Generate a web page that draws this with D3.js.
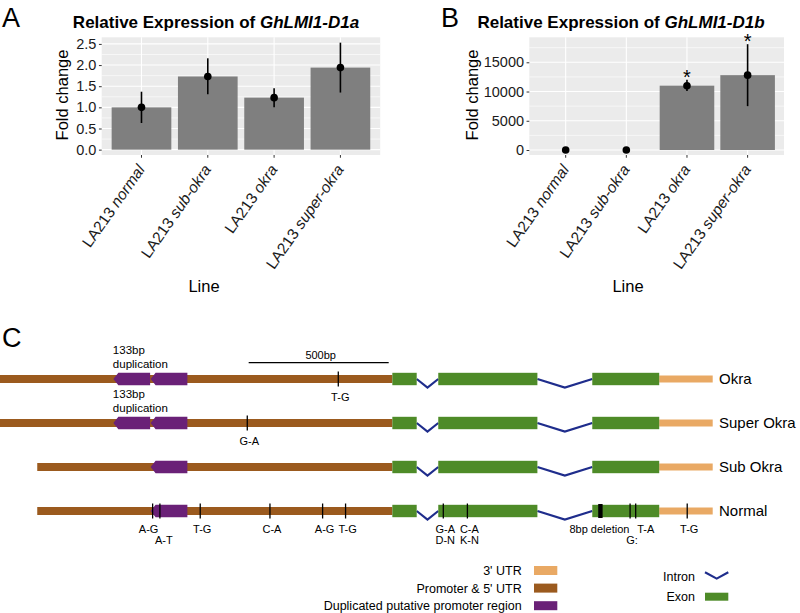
<!DOCTYPE html>
<html>
<head>
<meta charset="utf-8">
<script src="https://cdn.jsdelivr.net/npm/d3@7"></script>
<style>
  body { margin: 0; background: #fff; }
  svg { display: block; font-family: "Liberation Sans", Arial, sans-serif; }
</style>
</head>
<body>
<svg id="fig" width="800" height="613"></svg>
<script>
// ---- data: panels A and B (qPCR fold change) ----
var lineNames = ["normal", "sub-okra", "okra", "super-okra"];
var foldA = [1.0, 1.73, 1.23, 1.94];
var lowA  = [0.63, 1.31, 1.0, 1.35];
var highA = [1.37, 2.16, 1.45, 2.53];
var ticksA = [0, 0.5, 1, 1.5, 2, 2.5];

var foldB = [0, 0, 11000, 12800];
var lowB  = [0, 0, 10100, 7500];
var highB = [0, 0, 12000, 18100];
var signifB = [false, false, true, true];
var ticksB = [0, 5000, 10000, 15000];

// ---- data: panel C (gene structure, bp relative to normal start) ----
var rowNames = ["Okra", "Super Okra", "Sub Okra", "Normal"];
var rowStart = [-133, -133, 0, 0];
var promoterEnd = 1268;
var utrEnd = 2412;
var exons = [[1268, 1355], [1432, 1786], [1982, 2221]];
var dupCopies = [[[270, 403], [403, 536]], [[270, 403], [403, 536]], [[403, 536]], [[403, 536]]];
var snpOkra = [{pos: 1075, label: ["T-G"]}];
var snpSuper = [{pos: 750, label: ["G-A"]}];
var snpNormal = [
  {pos: 412, label: ["A-G"]},
  {pos: 438, label: ["", "A-T"]},
  {pos: 582, label: ["T-G"]},
  {pos: 831, label: ["C-A"]},
  {pos: 1019, label: ["A-G"]},
  {pos: 1101, label: ["T-G"]},
  {pos: 1450, label: ["G-A", "D-N"]},
  {pos: 1536, label: ["C-A", "K-N"]},
  {pos: 2117, label: ["", "G:"]},
  {pos: 2137, label: ["T-A"]},
  {pos: 2321, label: ["T-G"]}
];
var snpRows = [snpOkra, snpSuper, [], snpNormal];
var deletionNormal = {pos: 2011, label: "8bp deletion"};
var scaleBarBp = [755, 1255];

var svg = d3.select("#fig");
svg.append("rect").attr("width", 800).attr("height", 613).attr("fill", "#fff");

// panel letters
[["A", 2, 27], ["B", 441, 27], ["C", 2, 347]].forEach(function(p) {
  svg.append("text").attr("x", p[1]).attr("y", p[2]).attr("font-size", 27).text(p[0]);
});

function exprPanel(cfg) {
  var g = svg.append("g");
  var x = d3.scaleBand().domain(lineNames).range([cfg.left, cfg.right])
            .paddingInner(0.1).paddingOuter(0.15);
  var y = d3.scaleLinear().domain(cfg.yDomain).range([cfg.bottom, cfg.top]);

  g.append("rect").attr("x", cfg.left).attr("y", cfg.top)
   .attr("width", cfg.right - cfg.left).attr("height", cfg.bottom - cfg.top)
   .attr("fill", "#EBEBEB");

  // minor grid between major ticks
  var step = cfg.ticks[1] - cfg.ticks[0];
  var minor = cfg.ticks.map(function(t) { return t + step / 2; })
                 .filter(function(t) { return y(t) > cfg.top; });
  g.selectAll(".minor").data(minor).enter().append("line")
   .attr("x1", cfg.left).attr("x2", cfg.right)
   .attr("y1", function(d) { return y(d); }).attr("y2", function(d) { return y(d); })
   .attr("stroke", "#fff").attr("stroke-width", 0.6);
  g.selectAll(".major").data(cfg.ticks).enter().append("line")
   .attr("x1", cfg.left).attr("x2", cfg.right)
   .attr("y1", function(d) { return y(d); }).attr("y2", function(d) { return y(d); })
   .attr("stroke", "#fff").attr("stroke-width", 1.1);
  g.selectAll(".vmajor").data(lineNames).enter().append("line")
   .attr("x1", function(d) { return x(d) + x.bandwidth() / 2; })
   .attr("x2", function(d) { return x(d) + x.bandwidth() / 2; })
   .attr("y1", cfg.top).attr("y2", cfg.bottom)
   .attr("stroke", "#fff").attr("stroke-width", 1.1);

  // bars
  g.selectAll(".bar").data(cfg.fold).enter().append("rect")
   .attr("x", function(d, i) { return x(lineNames[i]); })
   .attr("width", x.bandwidth())
   .attr("y", function(d) { return y(d); })
   .attr("height", function(d) { return y(0) - y(d); })
   .attr("fill", "#7F7F7F");

  // error bars
  g.selectAll(".err").data(cfg.fold).enter().append("line")
   .attr("x1", function(d, i) { return x(lineNames[i]) + x.bandwidth() / 2; })
   .attr("x2", function(d, i) { return x(lineNames[i]) + x.bandwidth() / 2; })
   .attr("y1", function(d, i) { return y(cfg.low[i]); })
   .attr("y2", function(d, i) { return y(cfg.high[i]); })
   .attr("stroke", "#000").attr("stroke-width", 1.6);

  // mean points
  g.selectAll(".pt").data(cfg.fold).enter().append("circle")
   .attr("cx", function(d, i) { return x(lineNames[i]) + x.bandwidth() / 2; })
   .attr("cy", function(d) { return y(d); })
   .attr("r", 3.8).attr("fill", "#000");

  // significance stars
  if (cfg.signif) {
    lineNames.forEach(function(name, i) {
      if (!cfg.signif[i]) return;
      g.append("text")
       .attr("x", x(name) + x.bandwidth() / 2)
       .attr("y", y(cfg.high[i]) + 4)
       .attr("text-anchor", "middle").attr("font-size", 20).text("*");
    });
  }

  // y axis
  var ya = g.append("g").attr("transform", "translate(" + cfg.left + ",0)")
            .call(d3.axisLeft(y).tickValues(cfg.ticks).tickSize(2.75).tickPadding(2.5)
                    .tickFormat(cfg.fmt));
  ya.select(".domain").remove();
  ya.selectAll(".tick line").attr("stroke", "#333");
  ya.selectAll(".tick text").attr("font-size", 14.5).attr("fill", "#1a1a1a")
    .attr("font-family", null);

  // x axis
  var xa = g.append("g").attr("transform", "translate(0," + cfg.bottom + ")")
            .call(d3.axisBottom(x).tickSize(2.75).tickSizeOuter(0));
  xa.select(".domain").remove();
  xa.selectAll(".tick line").attr("stroke", "#333");
  xa.selectAll(".tick text").text(null)
    .attr("x", 0).attr("y", 0).attr("dy", 0)
    .attr("font-size", 15.5).attr("font-family", null).attr("fill", "#1a1a1a")
    .attr("text-anchor", "end")
    .attr("transform", "translate(4,14.5) rotate(-55)")
    .each(function(d) {
      var t = d3.select(this);
      t.append("tspan").text("LA213 ");
      t.append("tspan").attr("font-style", "italic").text(d);
    });

  // titles
  var tt = g.append("text").attr("x", cfg.titleX).attr("y", 28)
            .attr("text-anchor", "middle").attr("font-size", 17).attr("font-weight", "bold");
  tt.append("tspan").text("Relative Expression of ");
  tt.append("tspan").attr("font-style", "italic").text(cfg.gene);

  g.append("text").attr("transform", "translate(" + cfg.yTitleX + ",95) rotate(-90)")
   .attr("text-anchor", "middle").attr("font-size", 16.5).text("Fold change");
  g.append("text").attr("x", cfg.xTitleX).attr("y", 292)
   .attr("text-anchor", "middle").attr("font-size", 16.5).text("Line");
}

exprPanel({
  left: 101.7, right: 380.2, top: 37.3, bottom: 155,
  yDomain: [-0.1265, 2.6565], ticks: ticksA, fmt: d3.format(".1f"),
  fold: foldA, low: lowA, high: highA, signif: null,
  gene: "GhLMI1-D1a", titleX: 216, yTitleX: 68, xTitleX: 204
});
exprPanel({
  left: 529.3, right: 784, top: 37.3, bottom: 155,
  yDomain: [-855, 19275], ticks: ticksB, fmt: d3.format("d"),
  fold: foldB, low: lowB, high: highB, signif: signifB,
  gene: "GhLMI1-D1b", titleX: 621, yTitleX: 478, xTitleX: 628
});

// ---- panel C ----
var cPromoter = "#9B5A1E", cExon = "#4E8B28", cUtr = "#E9A964",
    cDup = "#6A2177", cIntron = "#1F2D8C";
var xc = d3.scaleLinear().domain([-133, utrEnd]).range([0, 712.7]);
var yc = d3.scalePoint().domain(rowNames).range([379, 511]);
var gc = svg.append("g");

rowNames.forEach(function(name, r) {
  var cy = yc(name);
  var row = gc.append("g");
  // promoter & 5' UTR
  row.append("rect").attr("x", xc(rowStart[r])).attr("y", cy - 4)
     .attr("width", xc(promoterEnd) - xc(rowStart[r])).attr("height", 8)
     .attr("fill", cPromoter);
  // 3' UTR
  row.append("rect").attr("x", xc(exons[2][1])).attr("y", cy - 3.5)
     .attr("width", xc(utrEnd) - xc(exons[2][1])).attr("height", 7)
     .attr("fill", cUtr);
  // introns
  for (var k = 0; k < exons.length - 1; k++) {
    var a = xc(exons[k][1]), b = xc(exons[k + 1][0]);
    row.append("path")
       .attr("d", d3.line()([[a, cy], [(a + b) / 2, cy + 8.5], [b, cy]]))
       .attr("fill", "none").attr("stroke", cIntron).attr("stroke-width", 2.2);
  }
  // exons
  row.selectAll(".exon").data(exons).enter().append("rect")
     .attr("x", function(d) { return xc(d[0]); })
     .attr("width", function(d) { return xc(d[1]) - xc(d[0]); })
     .attr("y", cy - 6.2).attr("height", 12.4).attr("fill", cExon);
  // duplicated promoter region (arrows pointing left)
  row.selectAll(".dup").data(dupCopies[r]).enter().append("path")
     .attr("d", function(d) {
       var x0 = xc(d[0]) + 0.5, x1 = xc(d[1]);
       return d3.line()([[x0, cy], [x0 + 5, cy - 6.2], [x1, cy - 6.2], [x1, cy + 6.2], [x0 + 5, cy + 6.2]]) + "Z";
     })
     .attr("fill", cDup);
  // SNP marks and labels
  var snps = snpRows[r];
  row.selectAll(".snp").data(snps).enter().append("line")
     .attr("x1", function(d) { return xc(d.pos); }).attr("x2", function(d) { return xc(d.pos); })
     .attr("y1", cy - 7.5).attr("y2", cy + 7.5)
     .attr("stroke", "#000").attr("stroke-width", 1.3);
  snps.forEach(function(d) {
    d.label.forEach(function(txt, j) {
      if (!txt) return;
      var dx = 2;
      if (txt === "A-G" && d.pos < 420) dx = -4;
      if (txt === "A-T") dx = 4;
      if (txt === "T-A") dx = 10;
      row.append("text").attr("x", xc(d.pos) + dx).attr("y", cy + 22 + j * 10.6)
         .attr("text-anchor", "middle").attr("font-size", 11).text(txt);
    });
  });
  // row name
  row.append("text").attr("x", 719).attr("y", cy + 5.2)
     .attr("font-size", 15).text(name);
});

// 133bp duplication labels
[0, 1].forEach(function(r) {
  var cy = yc(rowNames[r]);
  var t = gc.append("text").attr("x", xc(dupCopies[r][0][0])).attr("font-size", 11.5);
  t.append("tspan").attr("x", xc(dupCopies[r][0][0])).attr("y", cy - 25.5).text("133bp");
  t.append("tspan").attr("x", xc(dupCopies[r][0][0])).attr("y", cy - 11.5).text("duplication");
});

// 8bp deletion in normal
var cyN = yc("Normal");
gc.append("rect").attr("x", xc(deletionNormal.pos) - 2.2).attr("width", 4.4)
  .attr("y", cyN - 7).attr("height", 14).attr("fill", "#000");
gc.append("text").attr("x", xc(deletionNormal.pos) - 1).attr("y", cyN + 22)
  .attr("text-anchor", "middle").attr("font-size", 11).text(deletionNormal.label);

// scale bar
gc.append("line").attr("x1", xc(scaleBarBp[0])).attr("x2", xc(scaleBarBp[1]))
  .attr("y1", 362.7).attr("y2", 362.7).attr("stroke", "#000").attr("stroke-width", 1.2);
gc.append("text").attr("x", (xc(scaleBarBp[0]) + xc(scaleBarBp[1])) / 2 + 2).attr("y", 358.5)
  .attr("text-anchor", "middle").attr("font-size", 11).text((scaleBarBp[1] - scaleBarBp[0]) + "bp");

// legend
var legLeft = [["3' UTR", cUtr], ["Promoter & 5' UTR", cPromoter], ["Duplicated putative promoter region", cDup]];
var lg = svg.append("g");
legLeft.forEach(function(d, i) {
  var cy = 570.5 + i * 17.6;
  lg.append("text").attr("x", 521.7).attr("y", cy + 4.4).attr("text-anchor", "end")
    .attr("font-size", 12.5).text(d[0]);
  lg.append("rect").attr("x", 534).attr("y", cy - 4.5).attr("width", 23.3).attr("height", 9)
    .attr("fill", d[1]);
});
lg.append("text").attr("x", 695).attr("y", 580.5).attr("text-anchor", "end")
  .attr("font-size", 12.5).text("Intron");
lg.append("path").attr("d", d3.line()([[705, 572.3], [716.7, 578.6], [728.3, 572.3]]))
  .attr("fill", "none").attr("stroke", cIntron).attr("stroke-width", 2.2);
lg.append("text").attr("x", 695).attr("y", 601).attr("text-anchor", "end")
  .attr("font-size", 12.5).text("Exon");
lg.append("rect").attr("x", 705).attr("y", 592.7).attr("width", 23.3).attr("height", 8)
  .attr("fill", cExon);
</script>
</body>
</html>
